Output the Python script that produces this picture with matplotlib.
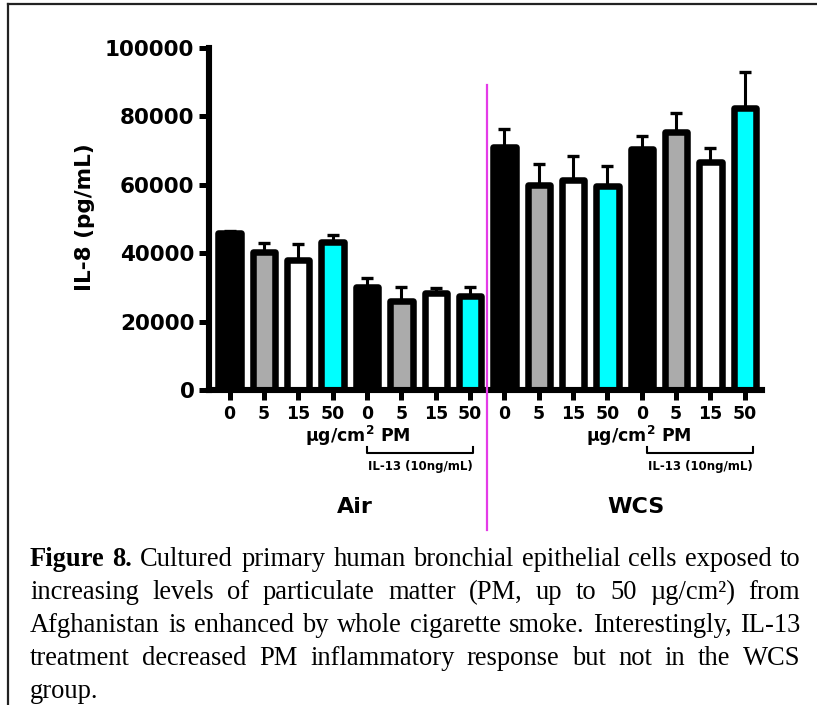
import numpy as np
import matplotlib
matplotlib.use('Agg')
from matplotlib import pyplot as plt
from matplotlib.lines import Line2D
import matplotlib.transforms as mtransforms

# IL-8 values (Air: 8 bars, WCS: 8 bars)
doses = ['0', '5', '15', '50']
air_mean = [46000, 40300, 38000, 43200, 30100, 26000, 28300, 27400]
air_err = [400, 2700, 4700, 2100, 2600, 4100, 1500, 2600]
wcs_mean = [71000, 59900, 61400, 59600, 70500, 75400, 66600, 82400]
wcs_err = [5300, 6100, 7000, 5900, 3800, 5600, 4100, 10600]
dose_colors = ['black', '#ABABAB', 'white', '#00FFFF']
y_ticks = [0, 20000, 40000, 60000, 80000, 100000]

caption_lines = [
    'Figure 8. Cultured primary human bronchial epithelial cells exposed to',
    'increasing levels of particulate matter (PM, up to 50 µg/cm²) from',
    'Afghanistan is enhanced by whole cigarette smoke. Interestingly, IL-13',
    'treatment decreased PM inflammatory response but not in the WCS',
    'group.',
]

W, H = 817, 705
plt.rcParams['mathtext.fontset'] = 'dejavusans'
fig = plt.figure(figsize=(W / 100, H / 100), dpi=100)
ax = fig.add_axes([209 / W, 1 - 390 / H, (762 - 209) / W, (390 - 48) / H])

means = air_mean + wcs_mean
errs = air_err + wcs_err
x = np.arange(len(means))
colors = dose_colors * 4

ax.errorbar(x, means, yerr=[np.zeros(len(errs)), errs], fmt='none', ecolor='black',
            elinewidth=2.2, capsize=4.3, capthick=2.4, zorder=1)
ax.bar(x, means, width=0.65, color=colors, edgecolor='black', linewidth=4.7,
       joinstyle='round', zorder=2)

ax.set_xlim(-0.6, 15.5)
ax.set_ylim(0, 100000)
ax.set_yticks(y_ticks)
ax.set_yticklabels([str(v) for v in y_ticks])
ax.set_xticks(x)
ax.set_xticklabels(doses * 4)

for s in ['top', 'right']:
    ax.spines[s].set_visible(False)
for s in ['left', 'bottom']:
    ax.spines[s].set_linewidth(4.4)
ax.tick_params(axis='both', length=7.5, width=3.6, direction='out')
ax.tick_params(axis='y', pad=3)
ax.tick_params(axis='x', pad=3)
for lab in ax.get_yticklabels():
    lab.set_fontsize(15.5)
    lab.set_fontweight('bold')
for lab in ax.get_xticklabels():
    lab.set_fontsize(12.5)
    lab.set_fontweight('bold')

fig.text(85 / W, 1 - 217 / H, 'IL-8 (pg/mL)', rotation=90, ha='center', va='center',
         fontsize=15.5, fontweight='bold')

trans = mtransforms.blended_transform_factory(ax.transData, ax.transAxes)

# dose unit labels, IL-13 brackets, group names
for xc in [3.73, 11.9]:
    ax.text(xc, -0.133, r'µg/cm$^{\mathbf{2}}$ PM', transform=trans, ha='center',
            va='center', fontsize=12.5, fontweight='bold')
for x0, x1 in [(4.0, 7.1), (12.15, 15.25)]:
    ax.plot([x0, x0, x1, x1], [-0.166, -0.184, -0.184, -0.166], transform=trans,
            color='black', lw=1.5, clip_on=False)
    ax.text((x0 + x1) / 2, -0.225, 'IL-13 (10ng/mL)', transform=trans, ha='center',
            va='center', fontsize=8.5, fontweight='bold')
ax.text(3.64, -0.342, 'Air', transform=trans, ha='center', va='center',
        fontsize=16, fontweight='bold')
ax.text(11.84, -0.342, 'WCS', transform=trans, ha='center', va='center',
        fontsize=16, fontweight='bold')

# magenta divider between Air and WCS
ax.plot([7.5, 7.5], [0.892, -0.409], transform=trans, color='#E43BE8', lw=1.6,
        clip_on=False, zorder=3)

# frame lines (top and left visible)
fig.add_artist(Line2D([8 / W, 1], [1 - 4 / H, 1 - 4 / H], color='#222222', lw=1.6))
fig.add_artist(Line2D([8 / W, 8 / W], [0, 1 - 4 / H], color='#222222', lw=1.6))

# justified caption
renderer = fig.canvas.get_renderer()
x_left, x_right = 30, 800


def measure(word, size, weight):
    t = fig.text(0, 0, word, fontsize=size, family='Liberation Serif', fontweight=weight)
    w = t.get_window_extent(renderer).width
    t.remove()
    return w


probe = fig.text(0, 0, caption_lines[2], fontsize=10, family='Liberation Serif')
natural = probe.get_window_extent(renderer).width
probe.remove()
fs = 10 * (x_right - x_left) / natural * 0.985

for i, line in enumerate(caption_lines):
    y = 1 - (566 + 33 * i) / H
    words = line.split(' ')
    weights = ['bold' if (i == 0 and k < 2) else 'normal' for k in range(len(words))]
    widths = [measure(w, fs, wt) for w, wt in zip(words, weights)]
    if i == len(caption_lines) - 1:
        gap = measure('a b', fs, 'normal') - measure('ab', fs, 'normal')
    else:
        gap = (x_right - x_left - sum(widths)) / (len(words) - 1)
    xp = x_left
    for w, wt, wd in zip(words, weights, widths):
        fig.text(xp / W, y, w, fontsize=fs, family='Liberation Serif', fontweight=wt,
                 ha='left', va='baseline')
        xp += wd + gap

fig.savefig('out.png', dpi=100)
